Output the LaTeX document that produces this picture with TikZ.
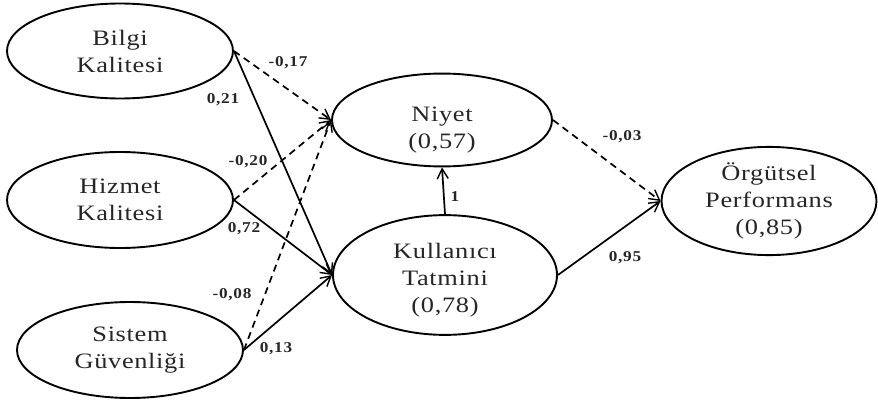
\documentclass[tikz,border=0pt]{standalone}
\usepackage{fontspec}
\setmainfont{Liberation Serif}
\usetikzlibrary{shapes.geometric,arrows.meta}
\begin{document}
\begin{tikzpicture}[x=1pt,y=-1pt,
  lat/.style={ellipse,draw,line width=1.9pt,inner sep=0pt,align=center,
    font=\fontsize{22}{27}\selectfont\addfontfeature{FakeStretch=1.2,LetterSpace=3},text=black!85},
  path/.style={line width=1.7pt,-{Straight Barb[length=10pt,width=11pt,line width=1.4pt]}},
  ns/.style={path,dash pattern=on 7pt off 5pt},
  lab/.style={font=\fontsize{15}{17}\selectfont\bfseries\addfontfeature{FakeStretch=1.15,LetterSpace=5},text=black!85,inner sep=1pt}]
\useasboundingbox (0,0) rectangle (878,401);
\node[lat,minimum width=226pt,minimum height=95pt] (bk) at (120,51) {Bilgi\\Kalitesi};
\node[lat,minimum width=226pt,minimum height=96pt] (hk) at (120,200) {Hizmet\\Kalitesi};
\node[lat,minimum width=226pt,minimum height=96pt] (sg) at (130,350) {Sistem\\Güvenliği};
\node[lat,minimum width=220pt,minimum height=90pt] (ni) at (442,120) {\rule{0pt}{34pt}Niyet\\(0,57)};
\node[lat,minimum width=224pt,minimum height=92pt] (kt) at (445,275) {\rule{0pt}{26pt}Kullanıcı\\Tatmini\\(0,78)};
\node[lat,minimum width=215pt,minimum height=95pt] (op) at (769,201) {Örgütsel\\Performans\\(0,85)};
\draw[ns] (bk.east) -- (ni.west);
\draw[path] (bk.east) -- (kt.west);
\draw[ns] (hk.east) -- (ni.west);
\draw[path] (hk.east) -- (kt.west);
\draw[ns] (sg.east) -- (ni.west);
\draw[path] (sg.east) -- (kt.west);
\draw[path] (kt.north) -- (ni.south);
\draw[ns] (ni.east) -- (op.west);
\draw[path] (kt.east) -- (op.west);
\node[lab] (l1) at (288,63) {-0,17};
\node[lab] (l2) at (223,100) {0,21};
\node[lab] (l3) at (248,162) {-0,20};
\node[lab] (l4) at (244,229) {0,72};
\node[lab] (l5) at (232,295) {-0,08};
\node[lab] (l6) at (276,349) {0,13};
\node[lab] (l7) at (455,197) {1};
\node[lab] (l8) at (622,137) {-0,03};
\node[lab] (l9) at (625,258) {0,95};
\end{tikzpicture}
\end{document}
